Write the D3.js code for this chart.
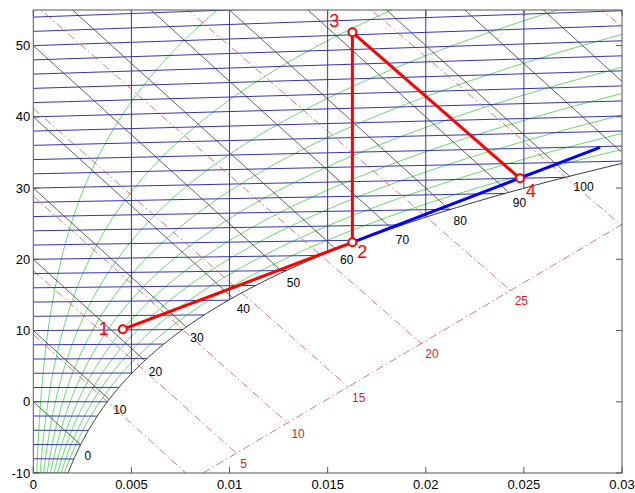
<!DOCTYPE html>
<html>
<head>
<meta charset="utf-8">
<script src="https://cdnjs.cloudflare.com/ajax/libs/d3/7.8.5/d3.min.js"></script>
<style>
  body { margin: 0; background: #fff; }
  text { font-family: "Liberation Sans", Arial, sans-serif; }
</style>
</head>
<body>
<svg id="chart" width="635" height="493"></svg>
<script>
// chart grid values
const isotherms = d3.range(-10, 56, 2);          // degC, every 2
const humidityLines = [0.005, 0.01, 0.015, 0.02, 0.025];
const enthalpies = d3.range(0, 140, 10);          // kJ/kg
const enthalpyLabels = [0, 10, 20, 30, 40, 50, 60, 70, 80, 90, 100];
const relHumidity = [0.1, 0.2, 0.3, 0.4, 0.5, 0.6, 0.7, 0.8, 0.9];
const wetBulbs = [0, 5, 10, 15, 20, 25, 30, 35];
const wetBulbLabels = [5, 10, 15, 20, 25];
const scaleLineX = [0.00865, 0.03];
const scaleLineY = [-10, 24.9];

// process states 1..4
const stateNames = ["1", "2", "3", "4"];
const stateX = [0.00456, 0.01626, 0.01626, 0.02480];
const stateY = [10.17, 22.39, 51.87, 31.37];
// blue line from state 2 on
const blueX = [0.01626, 0.02888];
const blueY = [22.39, 35.72];

const xTicks = [0, 0.005, 0.01, 0.015, 0.02, 0.025, 0.03];
const yTicks = [-10, 0, 10, 20, 30, 40, 50];

const width = 635, height = 493;
const plotLeft = 33.3, plotRight = 622, plotTop = 10, plotBottom = 473;

const svg = d3.select("#chart");
const x = d3.scaleLinear().domain([0, 0.03]).range([plotLeft, plotRight]);
const y = d3.scaleLinear().domain([-10, 55]).range([plotBottom, plotTop]);
const line = d3.line().x(d => x(d[0])).y(d => y(d[1]));

// psychrometrics
const P = 101325;
function ps(t) { return 611.2 * Math.exp(17.62 * t / (243.12 + t)); }
function hum(t, phi) { let p = phi * ps(t); return 0.622 * p / (P - p); }
function yOf(t, xv) { return t * (1 + 1.86 * xv); }
function hSat(t) { let xs = hum(t, 1); return t + xs * (2501 + 1.86 * t); }
function tSatX(xv) {
    let lo = -40, hi = 80;
    for (let i = 0; i < 60; i++) {
        let mid = (lo + hi) / 2;
        if (hum(mid, 1) < xv) lo = mid; else hi = mid;
    }
    return (lo + hi) / 2;
}
function tSatH(h) {
    let lo = -40, hi = 80;
    for (let i = 0; i < 60; i++) {
        let mid = (lo + hi) / 2;
        if (hSat(mid) < h) lo = mid; else hi = mid;
    }
    return (lo + hi) / 2;
}

svg.append("rect").attr("width", width).attr("height", height).attr("fill", "#fff");

svg.append("clipPath").attr("id", "plot")
    .append("rect")
    .attr("x", plotLeft).attr("y", plotTop)
    .attr("width", plotRight - plotLeft).attr("height", plotBottom - plotTop);

const g = svg.append("g").attr("clip-path", "url(#plot)");

// relative humidity curves
relHumidity.forEach(phi => {
    let pts = d3.range(-12, 60, 0.5).map(t => { let xv = hum(t, phi); return [xv, yOf(t, xv)]; })
        .filter(p => p[0] < 0.04);
    g.append("path").attr("d", line(pts))
        .attr("fill", "none").attr("stroke", "#52d852").attr("stroke-width", 0.9);
});

// isotherms
isotherms.forEach(t => {
    let xe = Math.min(hum(t, 1), 0.03);
    g.append("path").attr("d", line([[0, yOf(t, 0)], [xe, yOf(t, xe)]]))
        .attr("fill", "none").attr("stroke", "#3434b8").attr("stroke-width", 1);
});

// constant humidity ratio
humidityLines.forEach(xv => {
    let ts = tSatX(xv);
    g.append("path").attr("d", line([[xv, yOf(ts, xv)], [xv, 55]]))
        .attr("fill", "none").attr("stroke", "#3434b8").attr("stroke-width", 1);
});

// isenthalps
enthalpies.forEach(h => {
    let ts = tSatH(h);
    let xe = Math.min(hum(ts, 1), 0.03);
    g.append("path").attr("d", line([[0, h], [xe, h - 2501 * xe]]))
        .attr("fill", "none").attr("stroke", "#3a3a3a").attr("stroke-width", 0.8);
});

// wet bulb lines down to the scale line
const m = (scaleLineY[1] - scaleLineY[0]) / (scaleLineX[1] - scaleLineX[0]);
const dash = "8,3,1.5,3";
wetBulbs.forEach(tw => {
    let xs = hum(tw, 1);
    let b = 4.19 * tw - 2501;
    let a = hSat(tw) - 4.19 * tw * xs;
    let xi = (scaleLineY[0] - m * scaleLineX[0] - a) / (b - m);
    g.append("path").attr("d", line([[0, a], [xi, a + b * xi]]))
        .attr("fill", "none").attr("stroke", "#d85050").attr("stroke-width", 0.8)
        .attr("stroke-dasharray", dash);
    if (wetBulbLabels.includes(tw)) {
        svg.append("text")
            .attr("x", x(xi) + 4).attr("y", y(a + b * xi) + 15)
            .attr("font-size", "12px").attr("fill", "#e02020")
            .text(tw);
    }
});
g.append("path").attr("d", line(scaleLineX.map((v, i) => [v, scaleLineY[i]])))
    .attr("fill", "none").attr("stroke", "#d85050").attr("stroke-width", 0.8)
    .attr("stroke-dasharray", dash);

// saturation curve
let sat = d3.range(-12, 36, 0.2).map(t => { let xv = hum(t, 1); return [xv, yOf(t, xv)]; });
g.append("path").attr("d", line(sat))
    .attr("fill", "none").attr("stroke", "#222").attr("stroke-width", 0.9);

// enthalpy labels below the saturation curve
enthalpyLabels.forEach(h => {
    let ts = tSatH(h), xs = hum(ts, 1);
    svg.append("text")
        .attr("x", x(xs) + 4).attr("y", y(yOf(ts, xs)) + 15)
        .attr("font-size", "12px").attr("fill", "#000")
        .text(h);
});

// process
g.append("path").attr("d", line(blueX.map((v, i) => [v, blueY[i]])))
    .attr("fill", "none").attr("stroke", "#0000ff").attr("stroke-width", 3);
g.append("path").attr("d", line(stateX.map((v, i) => [v, stateY[i]])))
    .attr("fill", "none").attr("stroke", "#ff0000").attr("stroke-width", 3)
    .attr("stroke-linejoin", "round");

stateX.forEach((v, i) => {
    g.append("circle")
        .attr("cx", x(v)).attr("cy", y(stateY[i])).attr("r", 4)
        .attr("fill", "#fff").attr("stroke", "#ff0000").attr("stroke-width", 2);
});

const labelOffset = [[-19, 6], [10, 16], [-18, -5], [11, 19]];
stateNames.forEach((s, i) => {
    svg.append("text")
        .attr("x", x(stateX[i]) + labelOffset[i][0])
        .attr("y", y(stateY[i]) + labelOffset[i][1])
        .attr("text-anchor", "middle")
        .attr("font-size", "18px").attr("fill", "#ff0000")
        .text(s);
});

// frame and ticks
svg.append("rect")
    .attr("x", plotLeft).attr("y", plotTop)
    .attr("width", plotRight - plotLeft).attr("height", plotBottom - plotTop)
    .attr("fill", "none").attr("stroke", "#555").attr("stroke-width", 1);

xTicks.forEach(v => {
    svg.append("line").attr("x1", x(v)).attr("x2", x(v)).attr("y1", plotBottom).attr("y2", plotBottom - 6)
        .attr("stroke", "#555");
    svg.append("line").attr("x1", x(v)).attr("x2", x(v)).attr("y1", plotTop).attr("y2", plotTop + 6)
        .attr("stroke", "#555");
    svg.append("text").attr("x", x(v)).attr("y", 489)
        .attr("text-anchor", "middle").attr("font-size", "13px")
        .text(v);
});
yTicks.forEach(v => {
    svg.append("line").attr("x1", plotLeft).attr("x2", plotLeft + 6).attr("y1", y(v)).attr("y2", y(v))
        .attr("stroke", "#555");
    svg.append("line").attr("x1", plotRight).attr("x2", plotRight - 6).attr("y1", y(v)).attr("y2", y(v))
        .attr("stroke", "#555");
    svg.append("text").attr("x", plotLeft - 3).attr("y", y(v)).attr("dy", "0.35em")
        .attr("text-anchor", "end").attr("font-size", "13px")
        .text(v);
});
</script>
</body>
</html>
